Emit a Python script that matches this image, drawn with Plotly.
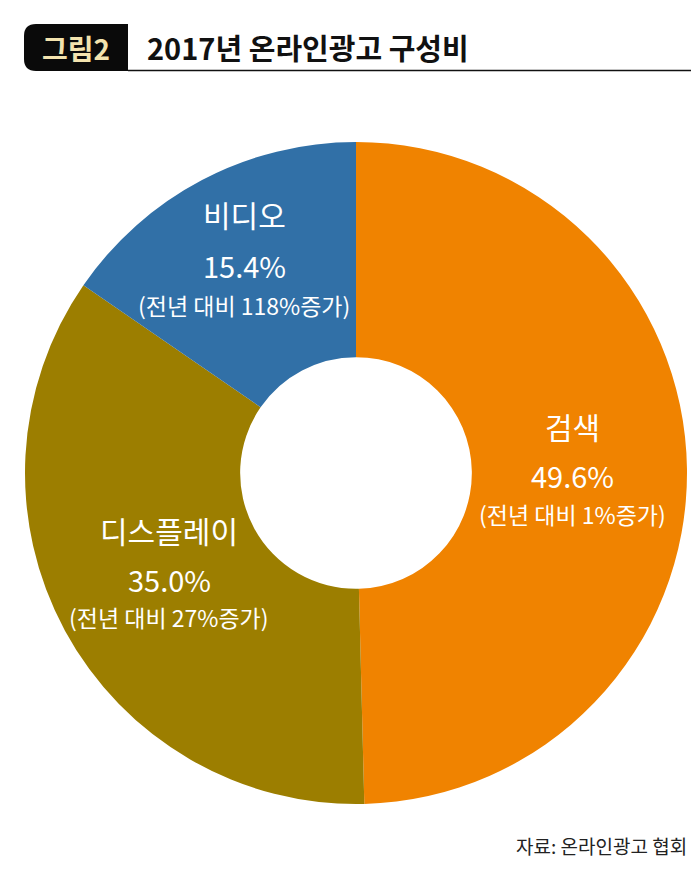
import plotly.graph_objects as go

W, H = 700, 873

# ---- data ----
categories = ["검색", "디스플레이", "비디오"]
shares = [49.6, 35.0, 15.4]
growth = ["1%", "27%", "118%"]
colors = ["#F08300", "#9C7E00", "#3170A7"]

title_tag = "그림2"
title_text = "2017년 온라인광고 구성비"
source_text = "자료: 온라인광고 협회"

FONT = "Noto Sans CJK KR"


def px(x):
    return x / W


def py(y):
    return 1 - y / H


fig = go.Figure()

fig.add_trace(go.Pie(
    labels=categories,
    values=shares,
    sort=False,
    direction="clockwise",
    rotation=0,
    hole=0.35,
    marker=dict(colors=colors, line=dict(width=0)),
    textinfo="none",
    hoverinfo="label+percent",
    showlegend=False,
    domain=dict(x=[px(17), px(679)], y=[py(796), py(134)]),
))

# label positions (pixel centers of each label block)
label_pos = {
    "검색": (564, 418, 467, 506),
    "디스플레이": (161, 522, 571, 609),
    "비디오": (236, 206, 257, 297),
}

annotations = []
for cat, val, g in zip(categories, shares, growth):
    cx, y1, y2, y3 = label_pos[cat]
    annotations.append(dict(x=px(cx), y=py(y1), text=cat, showarrow=False,
                            xref="paper", yref="paper", xanchor="center", yanchor="middle",
                            font=dict(family=FONT, size=30, color="white")))
    annotations.append(dict(x=px(cx), y=py(y2), text=f"{val:.1f}%", showarrow=False,
                            xref="paper", yref="paper", xanchor="center", yanchor="middle",
                            font=dict(family=FONT, size=29, color="white")))
    annotations.append(dict(x=px(cx), y=py(y3), text=f"(전년 대비 {g}증가)", showarrow=False,
                            xref="paper", yref="paper", xanchor="center", yanchor="middle",
                            font=dict(family=FONT, size=23, color="white")))

# title tag and title
annotations.append(dict(x=px(68), y=py(40), text=f"<b>{title_tag}</b>", showarrow=False,
                        xref="paper", yref="paper", xanchor="center", yanchor="middle",
                        font=dict(family=FONT, size=28, color="#F3E3AE")))
annotations.append(dict(x=px(137), y=py(39), text=f"<b>{title_text}</b>", showarrow=False,
                        xref="paper", yref="paper", xanchor="left", yanchor="middle",
                        font=dict(family=FONT, size=29, color="#111111")))
annotations.append(dict(x=px(681), y=py(837), text=source_text, showarrow=False,
                        xref="paper", yref="paper", xanchor="right", yanchor="middle",
                        font=dict(family=FONT, size=19, color="#222222")))

# rounded tag box (rounded on the left side)
x0, x1, y0, y1, r = 16, 120, 16, 63, 12
path = (f"M {px(x0 + r)},{py(y0)} L {px(x1)},{py(y0)} L {px(x1)},{py(y1)} "
        f"L {px(x0 + r)},{py(y1)} Q {px(x0)},{py(y1)} {px(x0)},{py(y1 - r)} "
        f"L {px(x0)},{py(y0 + r)} Q {px(x0)},{py(y0)} {px(x0 + r)},{py(y0)} Z")

shapes = [
    dict(type="path", path=path, xref="paper", yref="paper",
         fillcolor="#0A0A0A", line=dict(width=0), layer="below"),
    dict(type="line", xref="paper", yref="paper", x0=px(120), x1=px(683),
         y0=py(62.5), y1=py(62.5), line=dict(color="#111111", width=1.5)),
]

fig.update_layout(
    width=W, height=H,
    margin=dict(l=0, r=0, t=0, b=0),
    paper_bgcolor="white",
    plot_bgcolor="white",
    annotations=annotations,
    shapes=shapes,
    font=dict(family=FONT),
)

fig.write_html("out.html")
